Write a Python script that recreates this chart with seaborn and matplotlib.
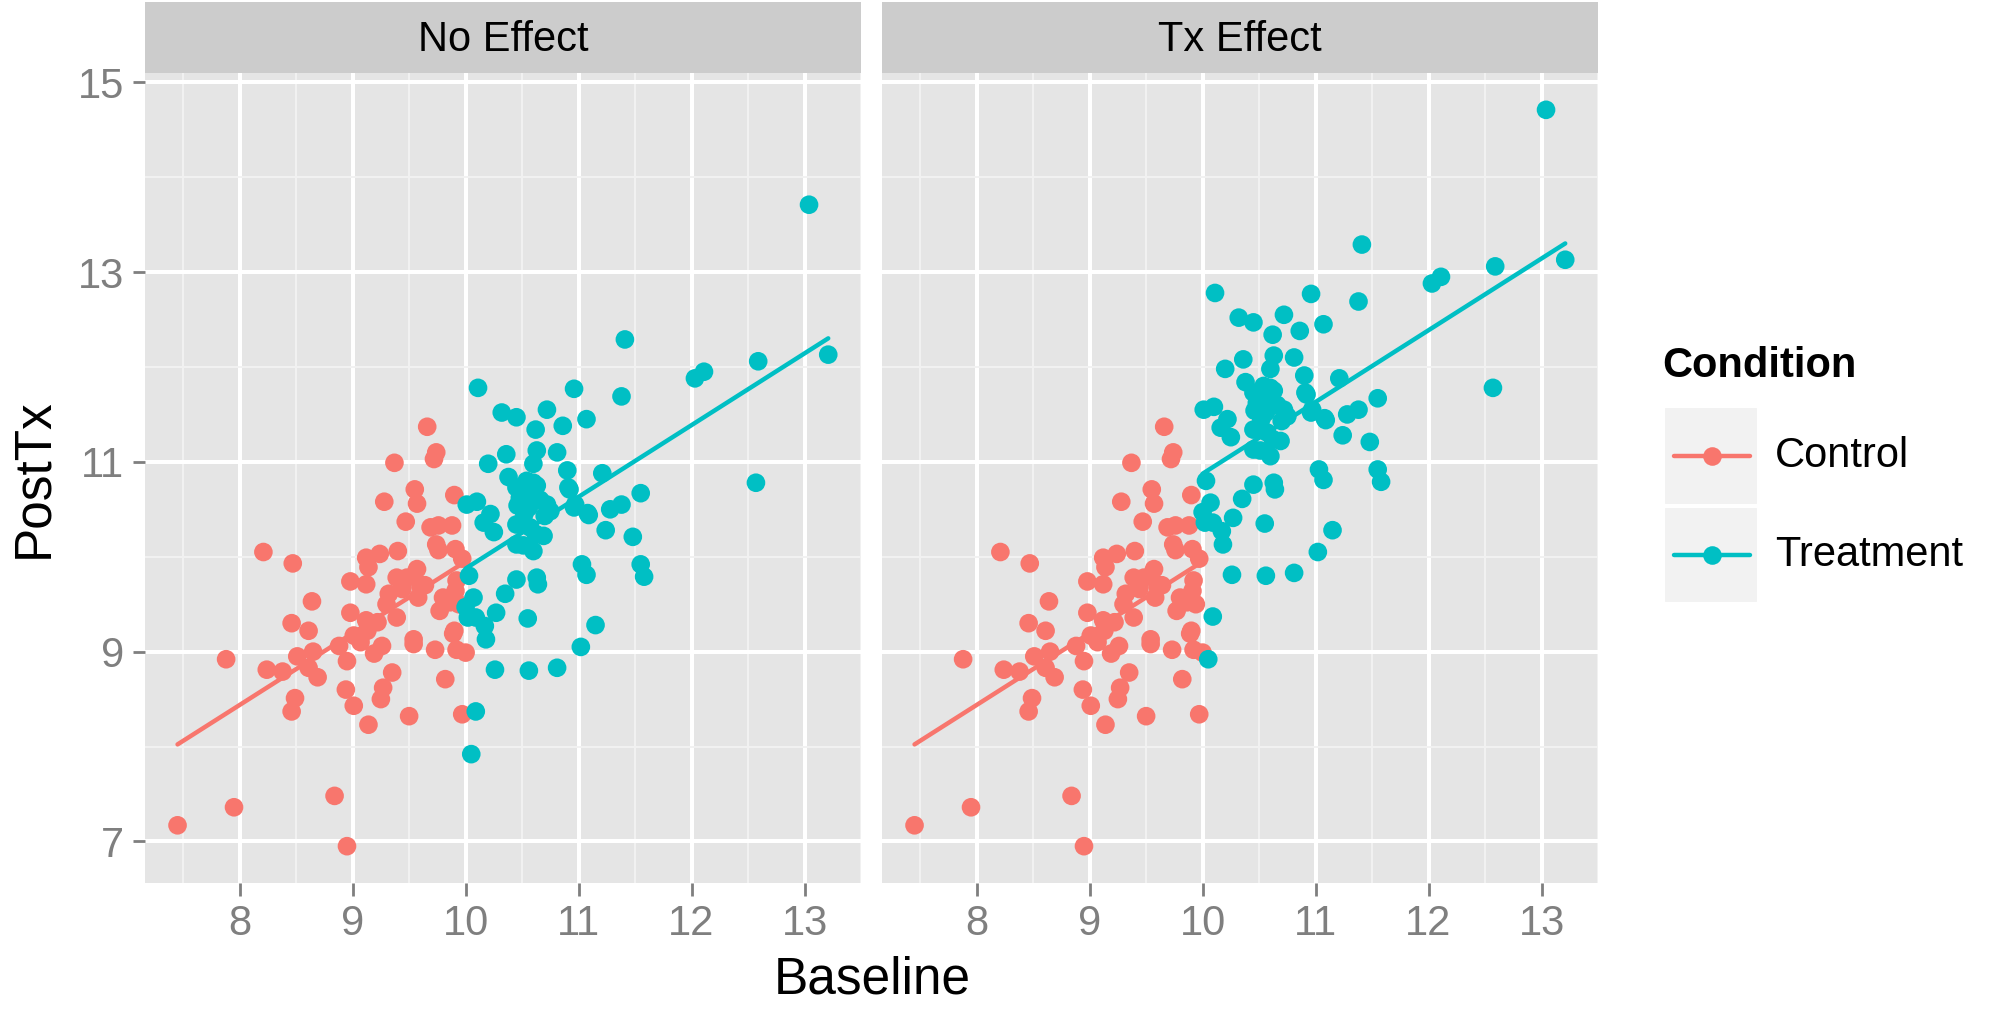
import numpy as np
import pandas as pd
import matplotlib
matplotlib.use("Agg")
import matplotlib.pyplot as plt
from matplotlib.patches import Rectangle
from matplotlib.lines import Line2D
import seaborn as sns

# ---------------- data ----------------
facets = ["No Effect", "Tx Effect"]
conditions = ["Control", "Treatment"]

control_baseline = [7.45, 7.95, 7.88, 8.21, 8.47, 8.64, 8.46, 8.61, 8.24, 8.38,
                    8.51, 8.65, 8.61, 8.69, 8.49, 8.46, 8.88, 8.95, 9.07, 9.26,
                    9.19, 9.35, 9.27, 9.25, 8.94, 9.01, 9.14, 9.54, 9.73, 9.92,
                    10.00, 9.89, 9.82, 9.50, 9.97, 8.84, 8.95, 9.66, 9.74, 9.72,
                    9.37, 9.55, 9.57, 9.28, 9.90, 9.47, 9.69, 9.76, 9.88, 9.74,
                    9.76, 9.91, 9.97, 9.12, 9.24, 9.40, 9.14, 8.98, 9.12, 8.98,
                    9.01, 9.12, 9.90, 9.77, 9.86, 9.94, 9.92, 9.91, 9.80, 9.58,
                    9.64, 9.39, 9.48, 9.54, 9.32, 9.30, 9.39, 9.57, 9.60, 9.13,
                    9.22, 9.54, 9.44]
control_posttx = [7.17, 7.36, 8.92, 10.05, 9.93, 9.53, 9.30, 9.22, 8.81, 8.79,
                  8.95, 9.00, 8.83, 8.73, 8.51, 8.37, 9.06, 8.90, 9.10, 9.06,
                  8.98, 8.78, 8.62, 8.50, 8.60, 8.43, 8.23, 9.08, 9.02, 9.02,
                  8.99, 9.19, 8.71, 8.32, 8.34, 7.48, 6.95, 11.37, 11.10, 11.03,
                  10.99, 10.71, 10.56, 10.58, 10.65, 10.37, 10.31, 10.33, 10.33, 10.13,
                  10.07, 10.08, 9.98, 9.99, 10.03, 10.06, 9.89, 9.74, 9.71, 9.41,
                  9.17, 9.33, 9.22, 9.43, 9.52, 9.50, 9.75, 9.64, 9.57, 9.57,
                  9.70, 9.78, 9.78, 9.80, 9.61, 9.50, 9.36, 9.87, 9.69, 9.22,
                  9.31, 9.13, 9.66]

treatment_baseline = [13.04, 13.21, 12.59, 12.03, 12.11, 12.57, 11.41, 11.38, 10.11, 10.96,
                      10.32, 10.45, 10.72, 10.62, 10.86, 11.07, 10.36, 10.63, 10.81, 10.20,
                      10.60, 10.90, 11.21, 10.38, 10.45, 10.54, 10.60, 10.63, 10.50, 10.59,
                      10.91, 10.01, 10.10, 10.46, 10.56, 10.53, 10.72, 10.75, 10.96, 11.08,
                      11.28, 11.38, 11.24, 11.48, 11.55, 10.22, 10.16, 10.25, 10.45, 10.69,
                      10.62, 10.57, 10.45, 10.51, 10.60, 10.03, 10.45, 10.63, 10.64, 11.03,
                      11.07, 11.55, 11.58, 10.35, 10.07, 10.00, 10.02, 10.09, 10.27, 10.17,
                      10.18, 10.55, 11.15, 11.02, 10.26, 10.56, 10.81, 10.09, 10.05, 10.70,
                      10.97, 11.09, 10.47, 10.61, 10.92, 10.55, 10.48, 10.66, 10.52]
# PostTx of the treatment group in the "No Effect" panel
treatment_posttx = [13.71, 12.13, 12.06, 11.88, 11.95, 10.78, 12.29, 11.69, 11.78, 11.77,
                    11.52, 11.47, 11.55, 11.34, 11.38, 11.45, 11.08, 11.12, 11.10, 10.98,
                    10.98, 10.91, 10.88, 10.84, 10.73, 10.80, 10.78, 10.75, 10.66, 10.68,
                    10.73, 10.55, 10.58, 10.54, 10.52, 10.64, 10.55, 10.48, 10.52, 10.46,
                    10.50, 10.55, 10.28, 10.21, 10.67, 10.45, 10.36, 10.26, 10.34, 10.22,
                    10.24, 10.31, 10.13, 10.12, 10.06, 9.80, 9.76, 9.78, 9.71, 9.92,
                    9.81, 9.92, 9.79, 9.61, 9.57, 9.47, 9.36, 9.36, 9.41, 9.27,
                    9.13, 9.35, 9.28, 9.05, 8.81, 8.80, 8.83, 8.37, 7.92, 10.43,
                    10.55, 10.44, 10.54, 10.62, 10.71, 10.70, 10.62, 10.60, 10.45]
# in the "Tx Effect" panel the treatment points sit one unit higher
tx_effect_shift = 1.0

x_major = [8, 9, 10, 11, 12, 13]
y_major = [7, 9, 11, 13, 15]

palette = {"Control": "#F8766D", "Treatment": "#00BFC4"}

# ---------------- build tables ----------------
rows = []
for f in facets:
    shift = tx_effect_shift if f == "Tx Effect" else 0.0
    for b, p in zip(control_baseline, control_posttx):
        rows.append((f, "Control", b, p))
    for b, p in zip(treatment_baseline, treatment_posttx):
        rows.append((f, "Treatment", b, p + shift))
df = pd.DataFrame(rows, columns=["Facet", "Condition", "Baseline", "PostTx"])

# ANCOVA fit (PostTx ~ Baseline + Condition) for each facet
line_rows = []
for f in facets:
    sub = df[df.Facet == f]
    X = np.column_stack([np.ones(len(sub)), sub.Baseline.values,
                         (sub.Condition == "Treatment").astype(float).values])
    beta, *_ = np.linalg.lstsq(X, sub.PostTx.values, rcond=None)
    for c in conditions:
        g = sub[sub.Condition == c]
        t = 1.0 if c == "Treatment" else 0.0
        for xv in (g.Baseline.min(), g.Baseline.max()):
            line_rows.append((f, c, xv, beta[0] + beta[1] * xv + beta[2] * t))
lines = pd.DataFrame(line_rows, columns=["Facet", "Condition", "Baseline", "PostTx"])

# ---------------- figure ----------------
sns.set_theme(style="darkgrid")
plt.rcParams["font.family"] = ["Liberation Sans", "DejaVu Sans"]
plt.rcParams["text.color"] = "black"

W, H = 1992, 1011
fig = plt.figure(figsize=(W / 100, H / 100), dpi=100)
fig.patch.set_facecolor("white")

def frac(x0, y0, x1, y1):
    return [x0 / W, 1 - y1 / H, (x1 - x0) / W, (y1 - y0) / H]

panel_px = [(145, 73, 861, 883), (882, 73, 1598, 883)]
strip_px = [(145, 2, 861, 73), (882, 2, 1598, 73)]

xr = df.Baseline.max() - df.Baseline.min()
yr = df.PostTx.max() - df.PostTx.min()
xlim = (df.Baseline.min() - 0.05 * xr, df.Baseline.max() + 0.05 * xr)
ylim = (df.PostTx.min() - 0.05 * yr, df.PostTx.max() + 0.05 * yr)

tick_col = "#7F7F7F"
for i, f in enumerate(facets):
    ax = fig.add_axes(frac(*panel_px[i]))
    ax.set_facecolor("#E5E5E5")
    sub = df[df.Facet == f]
    sns.scatterplot(data=sub, x="Baseline", y="PostTx", hue="Condition",
                    hue_order=conditions, palette=palette, s=180, linewidth=0,
                    alpha=1, legend=False, ax=ax, zorder=3)
    sns.lineplot(data=lines[lines.Facet == f], x="Baseline", y="PostTx",
                 hue="Condition", hue_order=conditions, palette=palette,
                 estimator=None, sort=True, linewidth=3.2, legend=False,
                 ax=ax, zorder=4)
    ax.set_xlim(xlim)
    ax.set_ylim(ylim)
    ax.set_xticks(x_major)
    ax.set_yticks(y_major)
    ax.set_xticks([v + 0.5 for v in [7] + x_major], minor=True)
    ax.set_yticks([v + 1 for v in y_major[:-1]], minor=True)
    ax.grid(which="major", color="white", linewidth=2.9)
    ax.grid(which="minor", color="#F2F2F2", linewidth=1.4)
    ax.set_axisbelow(True)
    for s in ax.spines.values():
        s.set_visible(False)
    ax.tick_params(which="major", length=9, width=2.0, color=tick_col,
                   labelcolor=tick_col, labelsize=30, pad=6,
                   bottom=True, left=True)
    ax.tick_params(which="minor", length=0)
    ax.set_xlabel("")
    ax.set_ylabel("")
    if i == 1:
        ax.tick_params(axis="y", left=False, labelleft=False)
    # strip
    sax = fig.add_axes(frac(*strip_px[i]))
    sax.set_facecolor("#CCCCCC")
    sax.grid(False)
    sax.set_xticks([])
    sax.set_yticks([])
    for s in sax.spines.values():
        s.set_visible(False)
    sax.text(0.5, 0.47, f, ha="center", va="center", fontsize=30,
             color="black", transform=sax.transAxes)

fig.text(872 / W, 1 - 980 / H, "Baseline", ha="center", va="center",
         fontsize=37, color="black")
fig.text(34 / W, 1 - 478 / H, "PostTx", ha="center", va="center", fontsize=37,
         rotation=90, color="black")

# ---------------- legend ----------------
lax = fig.add_axes([0, 0, 1, 1])
lax.set_xlim(0, W)
lax.set_ylim(H, 0)
lax.axis("off")
lax.text(1662, 366, "Condition", fontsize=30, fontweight="bold",
         ha="left", va="center", color="black")
key_y = [(407, 505), (507, 603)]
for (y0, y1), c in zip(key_y, conditions):
    lax.add_patch(Rectangle((1664, y0), 94, y1 - y0, facecolor="#F2F2F2",
                            edgecolor="white", linewidth=1.5))
    yc = (y0 + y1) / 2
    lax.add_line(Line2D([1674, 1750], [yc, yc], color=palette[c], linewidth=3.2))
    lax.add_line(Line2D([1712], [yc], marker="o", markersize=13.4,
                        markeredgewidth=0, color=palette[c]))
    lax.text(1775, yc, c, fontsize=30, ha="left", va="center", color="black")

fig.savefig("out.png", dpi=100)
